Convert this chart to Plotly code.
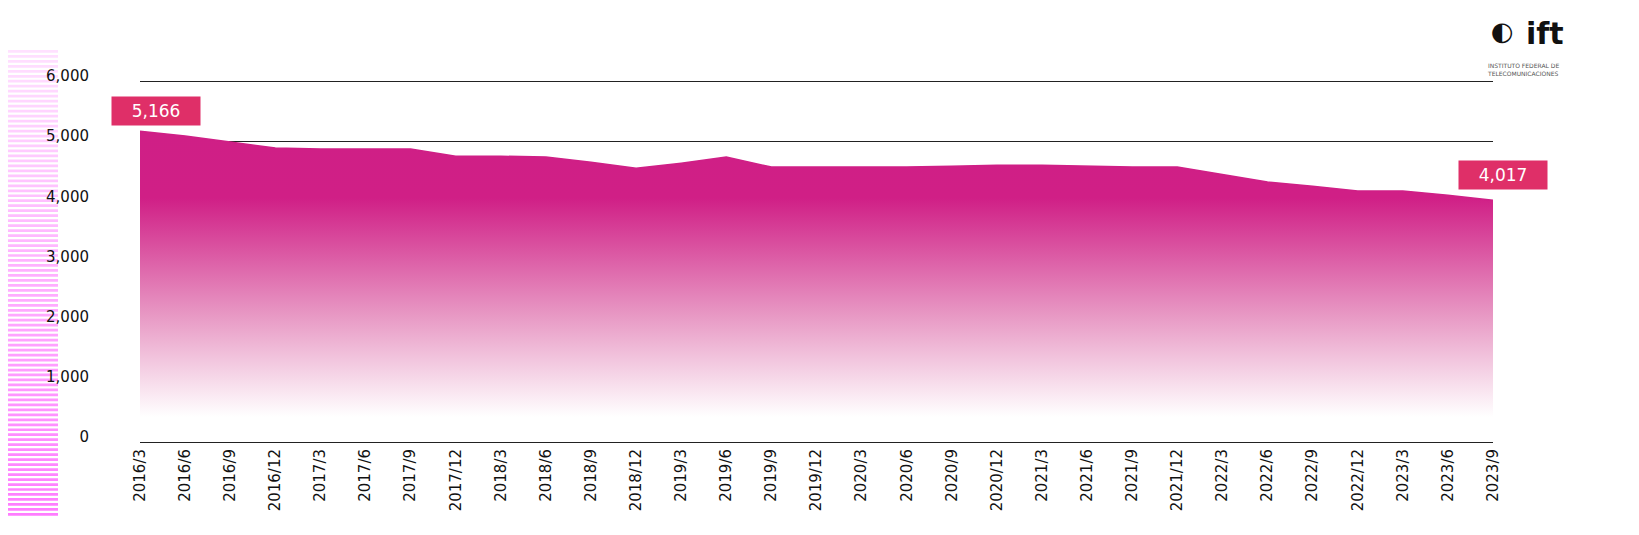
import plotly.graph_objects as go

periods = ["2016/3","2016/6","2016/9","2016/12","2017/3","2017/6","2017/9","2017/12",
           "2018/3","2018/6","2018/9","2018/12","2019/3","2019/6","2019/9","2019/12",
           "2020/3","2020/6","2020/9","2020/12","2021/3","2021/6","2021/9","2021/12",
           "2022/3","2022/6","2022/9","2022/12","2023/3","2023/6","2023/9"]
values = [5166,5085,4985,4885,4870,4870,4870,4750,4750,4735,4650,4550,4635,4735,4570,4570,
          4570,4570,4585,4600,4600,4585,4570,4570,4450,4320,4250,4170,4170,4100,4017]
ytick_vals = [0,1000,2000,3000,4000,5000,6000]
ytick_text = ["0","1,000","2,000","3,000","4,000","5,000","6,000"]

W, H = 1639, 535
L, R, T, B = 132, 154, 70, 101
pw, ph = W - L - R, H - T - B
YMAX = 6050

fig = go.Figure()
fig.add_trace(go.Scatter(
    x=list(range(len(periods))), y=values, mode="lines",
    line=dict(color="#cf1f86", width=1.5), fill="tozeroy",
    fillgradient=dict(type="vertical", start=5200, stop=0,
                      colorscale=[[0, "#cf1f86"], [0.22, "#d01f86"], [0.6, "#e89ac5"],
                                  [0.92, "#ffffff"], [1, "#ffffff"]]),
    hoverinfo="skip", showlegend=False))

def px2px(xp):
    return (xp - L) / pw
def py2py(yp):
    return (H - B - yp) / ph

shapes = []
n = 94
y_top, y_bot = 42, 510
step = (y_bot - y_top) / n
for i in range(n):
    y0 = y_top + i * step
    t = i / (n - 1)
    r, g, b = 255, int(225 - 100 * t), 255
    shapes.append(dict(type="rect", xref="paper", yref="paper",
                       x0=px2px(0), x1=px2px(50), y0=py2py(y0), y1=py2py(y0 + step * 0.55),
                       fillcolor=f"rgb({r},{g},{b})", line=dict(width=0), layer="below"))
fig.update_layout(shapes=shapes)

font = dict(family="DejaVu Sans", size=15, color="#111111")
ann = []
for idx, xs, ys in [(0, 16, 20), (len(values) - 1, 10, 25)]:
    ann.append(dict(x=idx, y=values[idx], xref="x", yref="y", text=f"{values[idx]:,}",
                    showarrow=False, xshift=xs, yshift=ys,
                    font=dict(family="DejaVu Sans", size=17, color="white"),
                    bgcolor="#df2f68", borderpad=4, width=80))
ann.append(dict(xref="paper", yref="paper", x=px2px(1558), y=py2py(6), xanchor="right", yanchor="top",
                text="<b>ift</b>", showarrow=False, font=dict(family="DejaVu Sans", size=30, color="#111")))
ann.append(dict(xref="paper", yref="paper", x=px2px(1508), y=py2py(6), xanchor="right", yanchor="top",
                text="◐", showarrow=False, font=dict(family="DejaVu Sans", size=26, color="#111")))
ann.append(dict(xref="paper", yref="paper", x=px2px(1477), y=py2py(52), xanchor="left", yanchor="top",
                text="INSTITUTO FEDERAL DE<br>TELECOMUNICACIONES", align="left", showarrow=False,
                font=dict(family="DejaVu Sans", size=6, color="#555")))

fig.update_layout(
    width=W, height=H, margin=dict(l=L, r=R, t=T, b=B),
    paper_bgcolor="white", plot_bgcolor="white", font=font, annotations=ann,
    xaxis=dict(range=[0, len(periods) - 1], tickvals=list(range(len(periods))), ticktext=periods,
               tickangle=-90, showgrid=False, showline=True, linecolor="#222", linewidth=1,
               ticks="", zeroline=False, tickfont=font),
    yaxis=dict(range=[0, YMAX], tickvals=ytick_vals, ticktext=ytick_text, showgrid=True,
               gridcolor="#222", gridwidth=1, zeroline=False, showline=False, ticks="",
               ticklabelstandoff=50, ticklabelshift=-5, tickfont=font),
)
fig.write_html("out.html")
